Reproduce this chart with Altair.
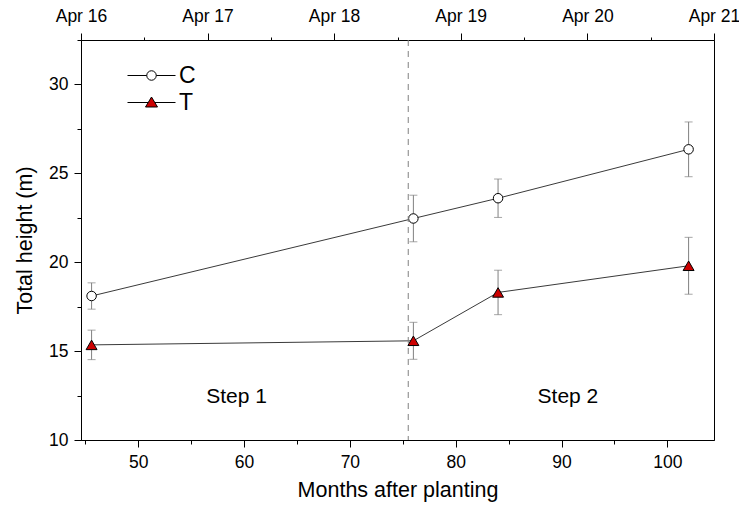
import altair as alt
import pandas as pd

# Measurement occasions (months after planting) and mean total height +/- error per treatment
months = [45.6, 76.0, 84.0, 102.0]
series_names = ["C", "T"]
c_height = [18.1, 22.46, 23.6, 26.35]
c_err = [0.74, 1.31, 1.08, 1.54]
t_height = [15.35, 15.58, 18.3, 19.8]
t_err = [0.83, 1.04, 1.25, 1.6]

# Phase annotations
step_labels = ["Step 1", "Step 2"]
step_months = [59.3, 90.6]
step_height = [12.4, 12.4]
step_change_date = ["2018-11-01"]

# Tick positions
x_ticks = [45, 50, 55, 60, 65, 70, 75, 80, 85, 90, 95, 100]
y_ticks = [10, 12.5, 15, 17.5, 20, 22.5, 25, 27.5, 30, 32.5]

FONT = "Liberation Sans"

rows = []
for name, h, e in [("C", c_height, c_err), ("T", t_height, t_err)]:
    for m, v, s in zip(months, h, e):
        rows.append({"series": name, "months": m, "height": v, "lo": v - s, "hi": v + s})
df = pd.DataFrame(rows)

steps = pd.DataFrame({"label": step_labels, "months": step_months, "height": step_height})
boundary = pd.DataFrame({"date": step_change_date})

x_scale = alt.Scale(domain=[44.6, 104.4], nice=False, zero=False)
y_scale = alt.Scale(domain=[10, 32.5], nice=False, zero=False)

x_axis = alt.Axis(
    values=x_ticks,
    labelExpr="datum.value % 10 === 0 ? datum.label : ''",
    tickSize={"condition": {"test": "datum.value % 10 === 0", "value": 7}, "value": 4},
    grid=False, labelOverlap=False, labelFlush=False,
    labelFontSize=17.5, titleFontSize=21.5, labelPadding=6, titlePadding=9,
    title="Months after planting",
)
y_axis = alt.Axis(
    values=y_ticks,
    labelExpr="datum.value % 5 === 0 ? datum.label : ''",
    tickSize={"condition": {"test": "datum.value % 5 === 0", "value": 7}, "value": 4},
    grid=False, labelOverlap=False, labelFlush=False,
    labelFontSize=17.5, titleFontSize=21.5, labelPadding=6, titlePadding=12,
    title="Total height (m)",
)

X = alt.X("months:Q", scale=x_scale, axis=x_axis)
Y = alt.Y("height:Q", scale=y_scale, axis=y_axis)

base = alt.Chart(df)

lines = base.mark_line(color="#3a3a3a", strokeWidth=1).encode(x=X, y=Y, detail="series:N")

err_rules = base.mark_rule(color="#808080", strokeWidth=1).encode(
    x=X, y=alt.Y("lo:Q", scale=y_scale, axis=y_axis), y2="hi:Q"
)
caps_lo = base.mark_tick(color="#808080", orient="horizontal", size=8, thickness=1).encode(
    x=X, y=alt.Y("lo:Q", scale=y_scale, axis=y_axis)
)
caps_hi = base.mark_tick(color="#808080", orient="horizontal", size=8, thickness=1).encode(
    x=X, y=alt.Y("hi:Q", scale=y_scale, axis=y_axis)
)

marker_stroke = alt.Scale(domain=series_names, range=["black", "black"])
marker_fill = alt.Scale(domain=series_names, range=["white", "#cc0000"])

points = base.mark_point(filled=False, strokeWidth=1, opacity=1).encode(
    x=X, y=Y,
    shape=alt.Shape("series:N", scale=alt.Scale(domain=series_names, range=["circle", "triangle-up"]), legend=None),
    fill=alt.Fill("series:N", scale=marker_fill, legend=None),
    stroke=alt.Stroke("series:N", scale=marker_stroke, legend=None),
    size=alt.Size("series:N", scale=alt.Scale(domain=series_names, range=[90, 120]), legend=None),
)

# Legend symbols: a short line with the marker drawn on it
c_symbol = ("M-4.8,0H-0.95M0.95,0H4.8"
            "M-0.95,0A0.95,0.95 0 1,0 0.95,0A0.95,0.95 0 1,0 -0.95,0Z")
t_symbol = "M-4.8,0H-0.66M0.66,0H4.8M0,-1.1L1.2,0.9L-1.2,0.9Z"

legend_layer = base.transform_filter("false").mark_point(
    filled=False, size=100, strokeWidth=1, opacity=1
).encode(
    x=X, y=Y,
    shape=alt.Shape(
        "series:N",
        scale=alt.Scale(domain=series_names, range=[c_symbol, t_symbol]),
        legend=alt.Legend(
            orient="none", legendX=59, legendY=24, title=None,
            labelFontSize=23, labelFont=FONT, labelOffset=16, rowPadding=3,
            symbolStrokeWidth=1, symbolOpacity=1,
        ),
    ),
    fill=alt.Fill("series:N", scale=marker_fill),
    stroke=alt.Stroke("series:N", scale=marker_stroke),
)

step_text = alt.Chart(steps).mark_text(fontSize=21, font=FONT, color="black", baseline="middle").encode(
    x=X, y=Y, text="label:N"
)

inner = alt.layer(lines, err_rules, caps_lo, caps_hi, points, legend_layer, step_text).resolve_scale(
    shape="independent", fill="independent", stroke="independent", size="independent"
)

date_ticks = [alt.DateTime(year=yr, month=4, date=1) for yr in range(2016, 2022)] + \
             [alt.DateTime(year=yr, month=10, date=1) for yr in range(2016, 2021)]

boundary_rule = alt.Chart(boundary).mark_rule(color="#808080", strokeWidth=1, strokeDash=[6, 5]).encode(
    x=alt.X(
        "date:T",
        scale=alt.Scale(domain=[alt.DateTime(year=2016, month=4, date=1),
                                alt.DateTime(year=2021, month=4, date=1)]),
        axis=alt.Axis(
            orient="top", values=date_ticks, title=None, grid=False,
            labelExpr="month(datum.value) === 3 ? timeFormat(datum.value, '%b %y') : ''",
            tickSize={"condition": {"test": "month(datum.value) === 3", "value": 7}, "value": 3},
            labelOverlap=False, labelFlush=False, labelFontSize=17.5, labelPadding=8,
        ),
    )
)

chart = alt.layer(inner, boundary_rule).resolve_scale(x="independent").properties(
    width=633, height=400, autosize="none",
    padding={"left": 81, "top": 40, "right": 25, "bottom": 70},
).configure_axis(
    labelFont=FONT, titleFont=FONT, titleFontWeight="normal", labelFontWeight="normal",
    domainColor="black", tickColor="black", labelColor="black", titleColor="black",
    domainWidth=1, tickWidth=1,
).configure_view(stroke="black", strokeWidth=1)

chart.save("out.html", embed_options={"renderer": "svg", "actions": False})
